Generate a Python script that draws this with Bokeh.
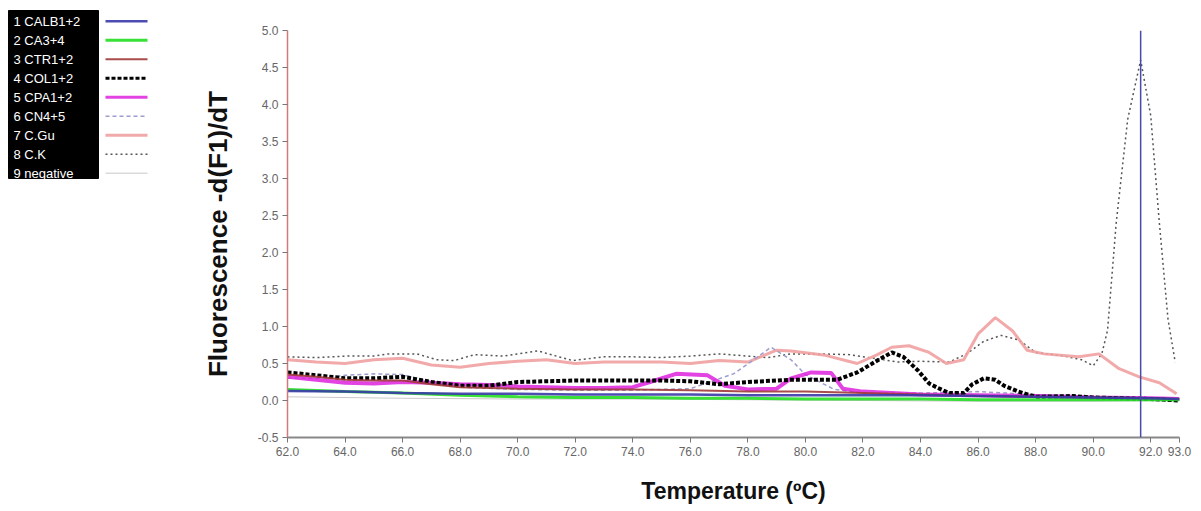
from bokeh.plotting import figure
from bokeh.layouts import row
from bokeh.models import Range1d, FixedTicker, PrintfTickFormatter, Span
from bokeh.core.properties import value
from bokeh.embed import file_html
from bokeh.resources import INLINE

# ---------------- data ----------------
series_names = ["1 CALB1+2", "2 CA3+4", "3 CTR1+2", "4 COL1+2", "5 CPA1+2",
                "6 CN4+5", "7 C.Gu", "8 C.K", "9 negative"]

calb_t = [62, 64, 66, 68, 70, 72, 74, 76, 78, 80, 82, 84, 86, 88, 90, 92, 93]
calb_v = [0.13, 0.12, 0.10, 0.09, 0.09, 0.08, 0.08, 0.08, 0.07, 0.07, 0.07, 0.07, 0.06, 0.05, 0.04, 0.03, 0.02]

ca_t = [62, 64, 66, 68, 70, 72, 74, 76, 78, 80, 82, 84, 86, 88, 90, 92, 93]
ca_v = [0.15, 0.12, 0.10, 0.07, 0.05, 0.04, 0.04, 0.03, 0.03, 0.02, 0.02, 0.02, 0.01, 0.01, 0.01, 0.01, 0.01]

ctr_t = [62, 63, 64, 65, 66, 67, 68, 70, 72, 74, 76, 78, 80, 82, 84, 86, 88, 90, 92, 93]
ctr_v = [0.35, 0.32, 0.28, 0.27, 0.27, 0.22, 0.18, 0.16, 0.15, 0.15, 0.14, 0.12, 0.12, 0.10, 0.08, 0.06, 0.05, 0.04, 0.03, 0.02]

col_t = [62, 63, 64, 65, 66, 67, 68, 69, 70, 72, 74, 75, 76, 77, 78, 79.5, 81.1, 81.8, 82.5, 83,
         83.4, 83.9, 84.3, 84.6, 85.0, 85.5, 85.8, 86.2, 86.6, 86.9, 87.4, 88, 89.3, 90, 91, 92, 93]
col_v = [0.38, 0.34, 0.30, 0.30, 0.32, 0.25, 0.20, 0.20, 0.25, 0.27, 0.27, 0.27, 0.26, 0.22, 0.25, 0.28, 0.28, 0.38, 0.54, 0.65,
         0.59, 0.41, 0.23, 0.17, 0.10, 0.10, 0.22, 0.30, 0.28, 0.20, 0.12, 0.05, 0.06, 0.04, 0.03, 0.02, 0.0]

cpa_t = [62, 63, 64, 65, 66, 67, 68, 69, 70, 71, 72, 73, 74, 74.6, 75.5, 76.6, 77.2, 78, 79, 79.5,
         80.2, 80.9, 81.3, 82, 83, 84, 86, 88, 89.2, 90, 92, 93]
cpa_v = [0.32, 0.28, 0.24, 0.23, 0.25, 0.24, 0.22, 0.21, 0.19, 0.18, 0.17, 0.17, 0.18, 0.25, 0.36, 0.34, 0.20, 0.15, 0.16, 0.30,
         0.38, 0.37, 0.16, 0.12, 0.10, 0.08, 0.07, 0.06, 0.05, 0.04, 0.03, 0.02]

cn_t = [62, 63, 64, 65, 66, 67, 68, 70, 72, 74, 76, 77.5, 78.2, 78.8, 79.5, 80, 81, 82, 84, 86, 88, 90, 92, 93]
cn_v = [0.30, 0.30, 0.34, 0.36, 0.35, 0.25, 0.18, 0.15, 0.14, 0.14, 0.16, 0.36, 0.55, 0.72, 0.55, 0.35, 0.15, 0.10, 0.10, 0.12, 0.08, 0.05, 0.03, 0.02]

cgu_t = [62, 63, 64, 65, 66, 67, 68, 69, 70, 71, 72, 73, 74, 75, 76, 77, 78, 79, 79.5, 80.7,
         81.8, 82.5, 83, 83.6, 84.3, 84.9, 85.5, 86, 86.6, 87.2, 87.7, 88.3, 89.5, 90.2, 90.9, 91.6, 92.3, 92.9]
cgu_v = [0.55, 0.52, 0.50, 0.55, 0.57, 0.48, 0.45, 0.50, 0.53, 0.55, 0.50, 0.52, 0.52, 0.52, 0.50, 0.54, 0.52, 0.68, 0.67, 0.61,
         0.50, 0.62, 0.72, 0.74, 0.65, 0.50, 0.55, 0.90, 1.12, 0.94, 0.68, 0.63, 0.59, 0.63, 0.43, 0.32, 0.24, 0.09]

ck_t = [62, 63, 64, 65, 65.5, 66.5, 67.2, 67.8, 68.5, 69.5, 70.7, 71.9, 73, 74, 75, 76, 77, 78, 78.7, 79.5,
        80.5, 81.5, 82.4, 83.2, 84, 85, 85.6, 86.2, 86.8, 87.4, 88, 89, 89.6, 90.0, 90.3, 90.5, 90.8, 91.2,
        91.65, 92.0, 92.3, 92.6, 92.85]
ck_v = [0.59, 0.58, 0.60, 0.60, 0.63, 0.63, 0.55, 0.54, 0.62, 0.60, 0.67, 0.54, 0.59, 0.59, 0.58, 0.60, 0.63, 0.60, 0.58, 0.63,
        0.63, 0.62, 0.57, 0.52, 0.53, 0.52, 0.63, 0.80, 0.88, 0.82, 0.65, 0.60, 0.55, 0.47, 0.63, 0.95, 2.40, 3.80,
        4.60, 3.85, 2.40, 1.10, 0.52]

neg_t = [62, 66, 70, 74, 78, 82, 86, 90, 93]
neg_v = [0.05, 0.03, 0.02, 0.02, 0.01, 0.0, -0.01, -0.01, 0.0]

x_ticks = [62, 64, 66, 68, 70, 72, 74, 76, 78, 80, 82, 84, 86, 88, 90, 92, 93]
y_ticks = [-0.5, 0.0, 0.5, 1.0, 1.5, 2.0, 2.5, 3.0, 3.5, 4.0, 4.5, 5.0]
cursor_temp = 91.65

# ---------------- styles ----------------
styles = [
    dict(color="#3838a8", width=2.5, dash="solid", alpha=0.9),
    dict(color="#22dd22", width=3.0, dash="solid", alpha=0.9),
    dict(color="#a03838", width=2.0, dash="solid", alpha=0.9),
    dict(color="#000000", width=4.0, dash="4 2", alpha=1.0),
    dict(color="#dd22dd", width=4.0, dash="solid", alpha=0.85),
    dict(color="#9d9dcf", width=1.5, dash="4 3", alpha=1.0),
    dict(color="#f0a0a0", width=3.0, dash="solid", alpha=0.9),
    dict(color="#555555", width=1.5, dash="2 3", alpha=1.0),
    dict(color="#c8c8c8", width=1.0, dash="solid", alpha=1.0),
]
data = [(calb_t, calb_v), (ca_t, ca_v), (ctr_t, ctr_v), (col_t, col_v), (cpa_t, cpa_v),
        (cn_t, cn_v), (cgu_t, cgu_v), (ck_t, ck_v), (neg_t, neg_v)]

# ---------------- main plot ----------------
p = figure(width=1041, height=511, output_backend="svg", toolbar_location=None,
           x_range=Range1d(62, 93), y_range=Range1d(-0.5, 5.0),
           min_border_left=127, min_border_right=22, min_border_top=30, min_border_bottom=74)
p.frame_align = False
p.outline_line_color = None
p.grid.visible = False
p.background_fill_color = "white"
p.border_fill_color = "white"

for i in reversed(range(len(data))):
    t, v = data[i]
    s = styles[i]
    p.line(t, v, line_color=s["color"], line_width=s["width"], line_dash=s["dash"], line_alpha=s["alpha"])

p.add_layout(Span(location=cursor_temp, dimension="height", line_color="#4a4aa8", line_width=1.5))

p.xaxis.ticker = FixedTicker(ticks=x_ticks)
p.yaxis.ticker = FixedTicker(ticks=y_ticks)
p.xaxis.formatter = PrintfTickFormatter(format="%.1f")
p.yaxis.formatter = PrintfTickFormatter(format="%.1f")
for ax in (p.xaxis[0], p.yaxis[0]):
    ax.major_label_text_font = "Liberation Sans"
    ax.major_label_text_font_size = "12px"
    ax.major_label_text_color = "#666666"
    ax.major_tick_line_color = "#777777"
    ax.major_tick_in = 0
    ax.major_tick_out = 5
    ax.minor_tick_line_color = None
    ax.axis_label_text_font = "Liberation Sans"
    ax.axis_label_text_font_style = "bold"
    ax.axis_label_text_color = "#111111"
p.xaxis.axis_line_color = "#888888"
p.xaxis.axis_line_width = 2
p.yaxis.axis_line_color = "#d07a7a"
p.yaxis.axis_line_width = 1.5
p.xaxis.axis_label = "Temperature (ºC)"
p.yaxis.axis_label = "Fluorescence -d(F1)/dT"
p.xaxis.axis_label_text_font_size = "23px"
p.yaxis.axis_label_text_font_size = "26px"
p.xaxis.axis_label_standoff = 19
p.yaxis.axis_label_standoff = 22
p.xaxis.major_label_standoff = 4
p.yaxis.major_label_standoff = 4

# ---------------- legend panel ----------------
lg = figure(width=160, height=511, output_backend="svg", toolbar_location=None,
            x_range=Range1d(0, 160), y_range=Range1d(511, 0),
            x_axis_location=None, y_axis_location=None,
            min_border=0, min_border_left=0, min_border_right=0, min_border_top=0, min_border_bottom=0)
lg.frame_align = False
lg.outline_line_color = None
lg.grid.visible = False
lg.quad(left=[8], right=[98], top=[10], bottom=[178], fill_color="black", line_color="black")
ys = [20.7 + 19 * i for i in range(len(series_names))]
lg.text(x=[13] * len(series_names), y=ys, text=series_names, text_color="white",
        text_font=value("Liberation Sans"), text_font_size="13px", text_baseline="middle")
for i, yy in enumerate(ys):
    s = styles[i]
    lg.line([105, 147], [yy, yy], line_color=s["color"], line_width=min(s["width"], 3),
            line_dash=s["dash"], line_alpha=s["alpha"])

layout = row(lg, p)
open("out.html", "w").write(file_html(layout, INLINE))
